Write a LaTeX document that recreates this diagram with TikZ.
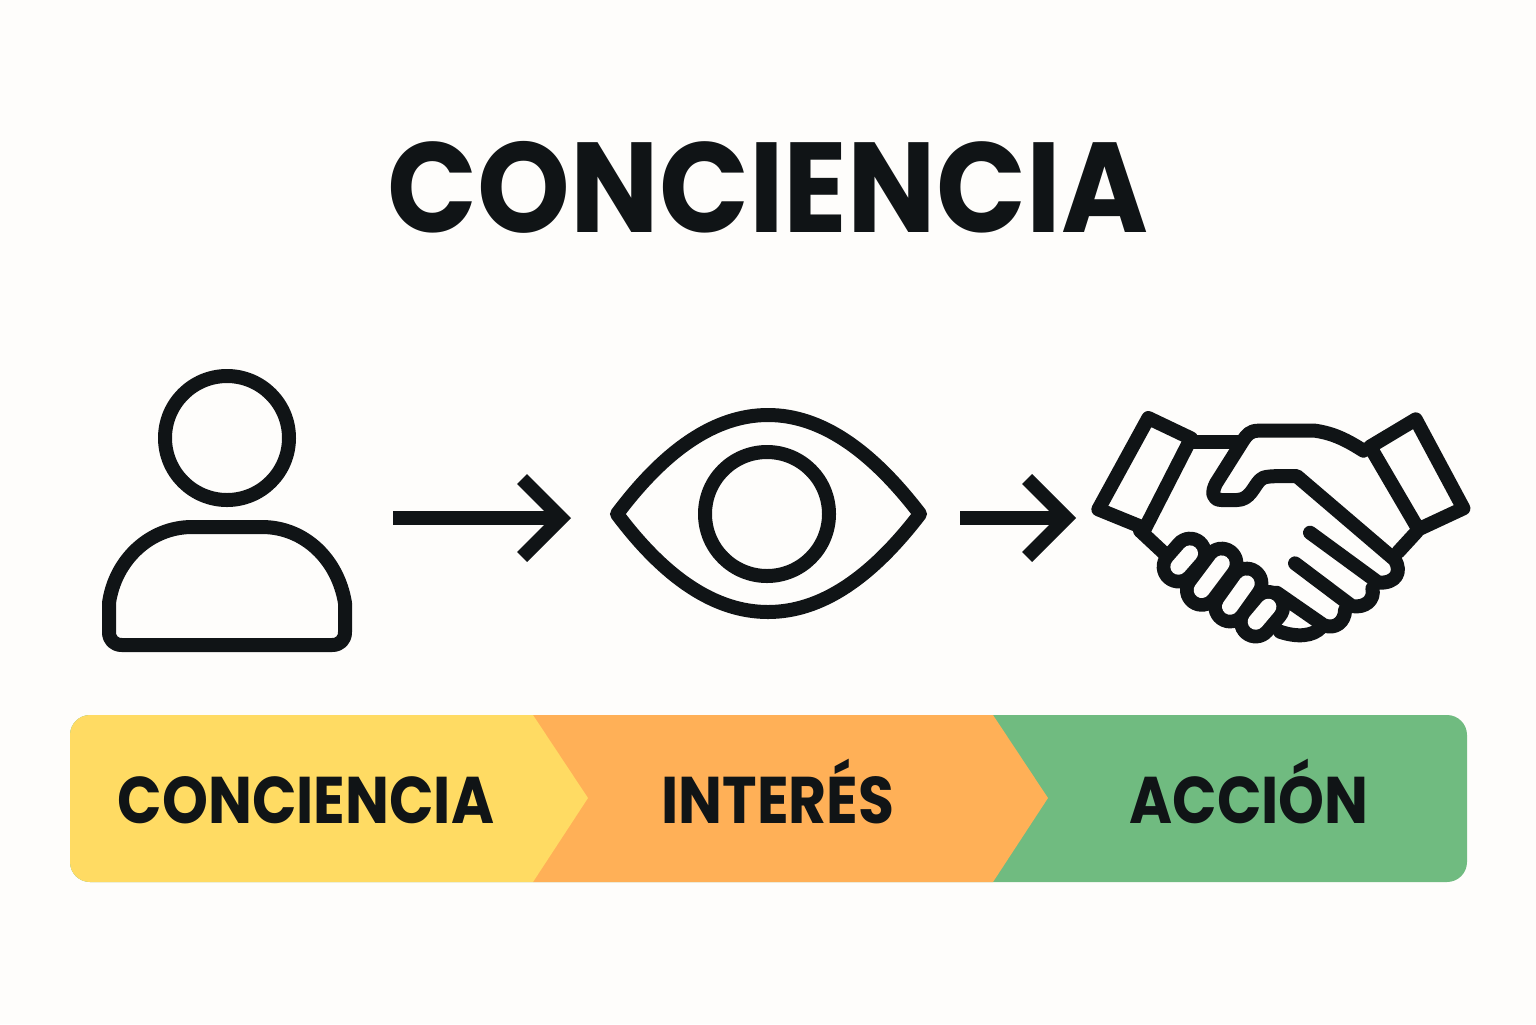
\documentclass[tikz,border=0pt]{standalone}
\usepackage{fontspec}
\setmainfont{Poppins}
\newfontfamily\titlefont[FakeStretch=0.922]{Poppins}
\newfontfamily\stepfont[FakeStretch=0.885]{Poppins}
\usetikzlibrary{arrows.meta}
\definecolor{paper}{HTML}{FEFDFB}
\definecolor{ink}{HTML}{101416}
\definecolor{stepyellow}{HTML}{FFDB63}
\definecolor{steporange}{HTML}{FFB057}
\definecolor{stepgreen}{HTML}{70BB80}
\tikzset{
  icon/.style={draw=ink, line width=7pt, line join=round, line cap=round},
  flow/.style={draw=ink, line width=7pt, -{Straight Barb[length=19.5pt,width=39pt]}},
  steplabel/.style={text=ink, font=\fontsize{33}{33}\selectfont\stepfont\bfseries, inner sep=0pt, anchor=base},
  fingerblack/.style={draw=ink, line width=21.7pt, line cap=round},
  fingerwhite/.style={draw=paper, line width=8pt, line cap=round},
}
\begin{document}
\begin{tikzpicture}[x=0.5pt,y=-0.5pt]
    \useasboundingbox[fill=paper] (0,0) rectangle (1536,1024);

    % Title
    \node[text=ink, font=\fontsize{64}{64}\selectfont\titlefont\bfseries, inner sep=0pt, anchor=base] (title) at (768,232) {CONCIENCIA};

    % Person
    \draw[icon] (227,438) circle (62);
    \draw[icon] (109,632) -- (109,603) .. controls (115,560) and (150,527) .. (192,527)
        -- (262,527) .. controls (305,527) and (338,560) .. (345,603) -- (345,632)
        .. controls (345,640) and (340,645) .. (332,645) -- (122,645)
        .. controls (114,645) and (109,640) .. (109,632) -- cycle;

    % Eye
    \draw[icon] (617,514) .. controls (665,450) and (715,415) .. (768,415)
        .. controls (821,415) and (871,450) .. (920,514)
        .. controls (871,578) and (821,612) .. (768,612)
        .. controls (715,612) and (665,578) .. (617,514) -- cycle;
    \draw[icon] (767,514) circle (62);

    % Handshake, in a finer grid
    \begin{scope}[shift={(1080,400)},x=0.1667pt,y=-0.1667pt]
        % Cuffs
        \draw[icon] (205,54) -- (333,115) -- (195,385) -- (55,328) -- cycle;
        \draw[icon] (1007,58) -- (1150,325) -- (1015,388) -- (870,140) -- cycle;
        % Wrists
        \draw[icon] (333,125) -- (480,125);
        \draw[icon] (180,392) -- (255,462);
        \draw[icon] (1010,395) -- (955,455);
        % Right hand with thumb
        \draw[icon] (850,152) .. controls (800,120) and (760,100) .. (705,92) -- (535,92)
            .. controls (510,92) and (500,105) .. (490,120) -- (408,250)
            .. controls (395,275) and (395,300) .. (425,300) -- (470,300)
            .. controls (510,300) and (520,260) .. (540,240)
            .. controls (550,228) and (570,228) .. (650,228) -- (945,480)
            .. controls (965,515) and (950,550) .. (895,548) -- (690,398);
        \draw[icon] (877,565) .. controls (885,600) and (855,625) .. (815,618) -- (645,490);
        \draw[icon] (795,630) .. controls (795,665) and (765,690) .. (730,675) -- (590,578);
        \draw[icon] (725,680) .. controls (700,710) and (650,712) .. (600,695);
        % Fingers of the left hand
        \draw[fingerblack] (295,500) -- (330,460);
        \draw[fingerblack] (365,570) -- (425,490);
        \draw[fingerblack] (450,620) -- (500,550);
        \draw[fingerblack] (527,665) -- (565,620);
        \draw[fingerwhite] (295,500) -- (330,460);
        \draw[fingerwhite] (365,570) -- (425,490);
        \draw[fingerwhite] (450,620) -- (500,550);
        \draw[fingerwhite] (527,665) -- (565,620);
    \end{scope}

    % Arrows
    \coordinate (flowA) at (393,518);
    \coordinate (flowB) at (571,518);
    \coordinate (flowC) at (960,518);
    \coordinate (flowD) at (1076,518);
    \draw[flow] (flowA) -- (flowB);
    \draw[flow] (flowC) -- (flowD);

    % Bar
    \fill[stepgreen, rounded corners=10pt] (70,715) rectangle (1467,882);
    \fill[steporange] (533,715) -- (993,715) -- (1048,798) -- (993,882) -- (533,882) -- cycle;
    \fill[stepyellow] (588,798) -- (533,715) -- (120,715) [rounded corners=10pt] -- (70,715) -- (70,882) -- (120,882) [sharp corners] -- (533,882) -- cycle;

    \node[steplabel] (stepA) at (306,823) {CONCIENCIA};
    \node[steplabel] (stepB) at (778,823) {INTERÉS};
    \node[steplabel] (stepC) at (1249,823) {ACCIÓN};
\end{tikzpicture}
\end{document}
